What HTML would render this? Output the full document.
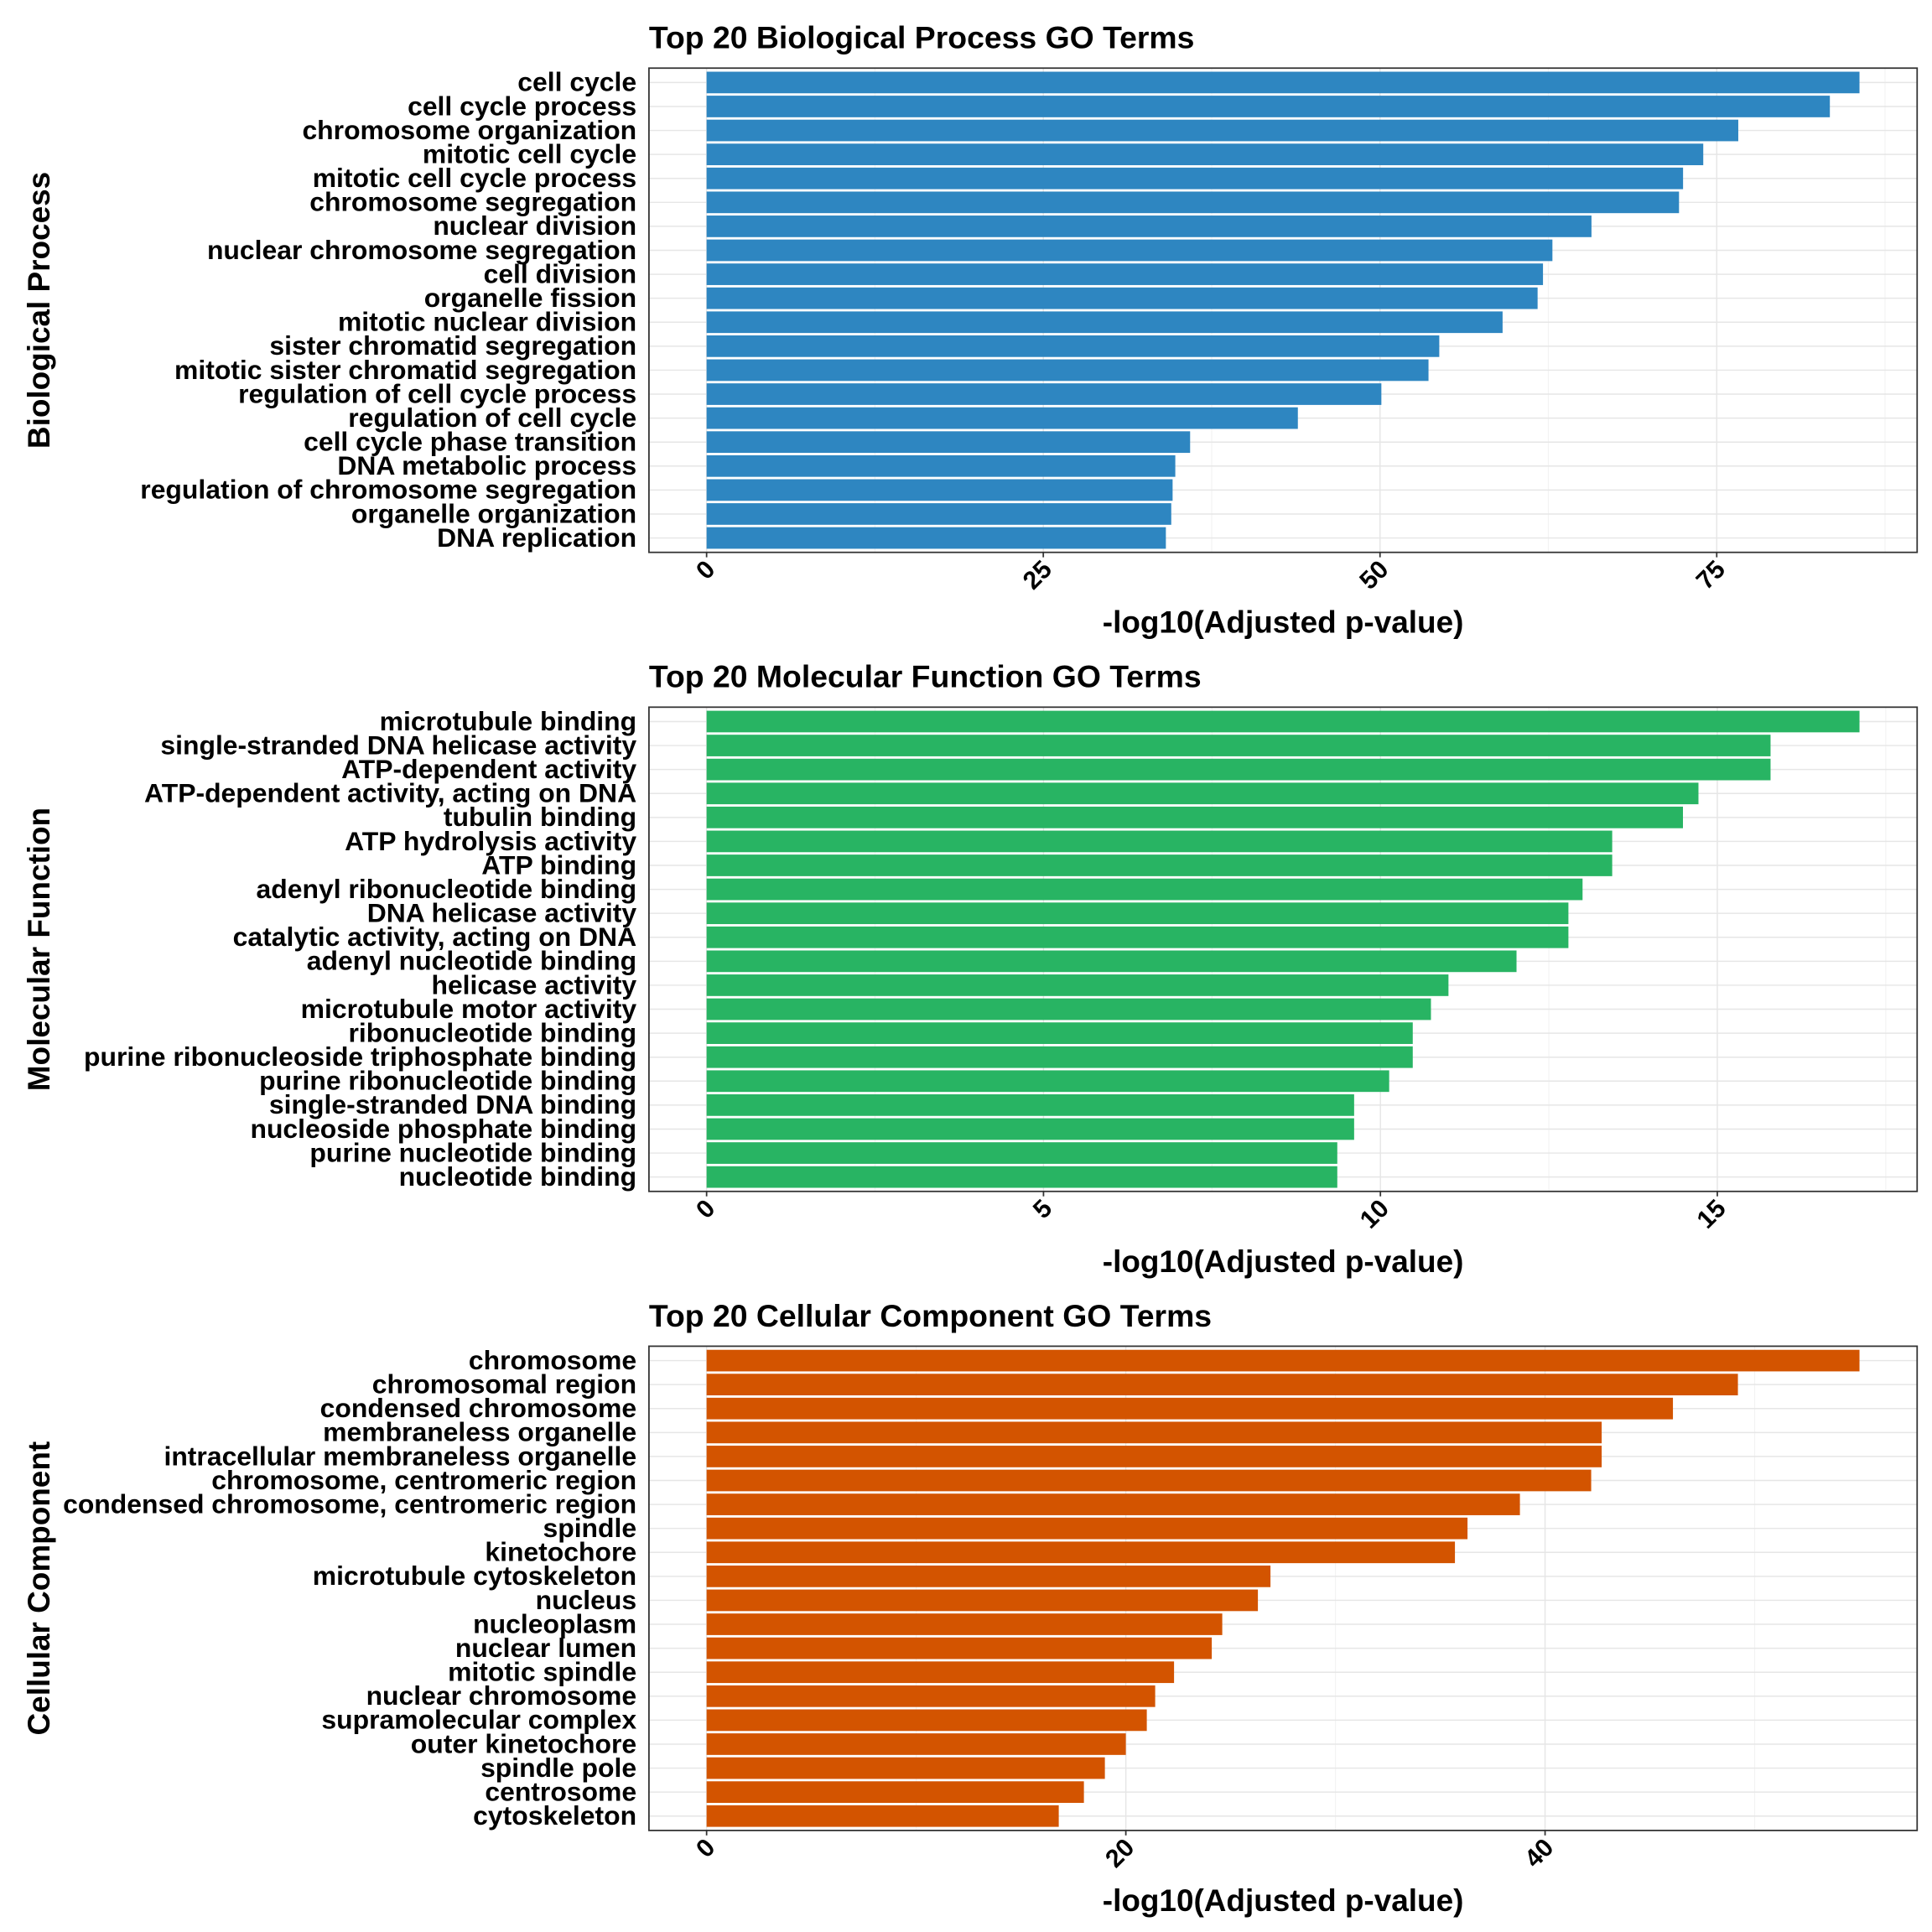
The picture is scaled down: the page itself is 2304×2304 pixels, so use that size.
<!DOCTYPE html>
<html><head><meta charset="utf-8"><style>
html,body{margin:0;padding:0;background:#fff;}
svg{display:block;font-family:"Liberation Sans",Arial,sans-serif;}
</style></head><body>
<svg id="chart" width="2304" height="2304" viewBox="0 0 1560 1560" xmlns="http://www.w3.org/2000/svg"></svg>
<script>
const bpTerms = ["cell cycle","cell cycle process","chromosome organization","mitotic cell cycle","mitotic cell cycle process","chromosome segregation","nuclear division","nuclear chromosome segregation","cell division","organelle fission","mitotic nuclear division","sister chromatid segregation","mitotic sister chromatid segregation","regulation of cell cycle process","regulation of cell cycle","cell cycle phase transition","DNA metabolic process","regulation of chromosome segregation","organelle organization","DNA replication"];
const bpValues = [85.6,83.4,76.6,74.0,72.5,72.2,65.7,62.8,62.1,61.7,59.1,54.4,53.6,50.1,43.9,35.9,34.8,34.6,34.5,34.1];
const bpTicks = [0,25,50,75];
const mfTerms = ["microtubule binding","single-stranded DNA helicase activity","ATP-dependent activity","ATP-dependent activity, acting on DNA","tubulin binding","ATP hydrolysis activity","ATP binding","adenyl ribonucleotide binding","DNA helicase activity","catalytic activity, acting on DNA","adenyl nucleotide binding","helicase activity","microtubule motor activity","ribonucleotide binding","purine ribonucleoside triphosphate binding","purine ribonucleotide binding","single-stranded DNA binding","nucleoside phosphate binding","purine nucleotide binding","nucleotide binding"];
const mfValues = [17.11,15.79,15.79,14.72,14.49,13.44,13.44,13.0,12.79,12.79,12.02,11.01,10.75,10.48,10.48,10.13,9.61,9.61,9.36,9.36];
const mfTicks = [0,5,10,15];
const ccTerms = ["chromosome","chromosomal region","condensed chromosome","membraneless organelle","intracellular membraneless organelle","chromosome, centromeric region","condensed chromosome, centromeric region","spindle","kinetochore","microtubule cytoskeleton","nucleus","nucleoplasm","nuclear lumen","mitotic spindle","nuclear chromosome","supramolecular complex","outer kinetochore","spindle pole","centrosome","cytoskeleton"];
const ccValues = [55.0,49.2,46.1,42.7,42.7,42.2,38.8,36.3,35.7,26.9,26.3,24.6,24.1,22.3,21.4,21.0,20.0,19.0,18.0,16.8];
const ccTicks = [0,20,40];

const NS="http://www.w3.org/2000/svg";
const svg=document.getElementById('chart');
function mk(tag,attrs,parent){const e=document.createElementNS(NS,tag);for(const k in attrs)e.setAttribute(k,attrs[k]);(parent||svg).appendChild(e);return e;}

function panel(key,top,title,ytitle,terms,values,ticks,color){
  const g=mk('g',{});
  
  
  const L=524,R=1548,T=top,B=top+391;
  const maxV=Math.max(...values);
  const d0=-0.05*maxV,d1=1.05*maxV;
  const xs=v=>L+(v-d0)/(d1-d0)*(R-L);
  const n=terms.length;
  const unit=(B-T)/(n-1+1.2);
  const ys=i=>T+unit*(0.6+i);
  const step=ticks[1]-ticks[0];
  for(let v=ticks[0]+step/2; xs(v)<R; v+=step){
    const l=mk('line',{x1:xs(v),x2:xs(v),y1:T,y2:B,stroke:'#f3f3f3','stroke-width':0.8},g);
    
    
  }
  ticks.forEach(v=>{
    const l=mk('line',{x1:xs(v),x2:xs(v),y1:T,y2:B,stroke:'#e6e6e6','stroke-width':1},g);
    
    
  });
  terms.forEach((t,i)=>{
    const l=mk('line',{x1:L,x2:R,y1:ys(i),y2:ys(i),stroke:'#e6e6e6','stroke-width':1},g);
    
    
  });
  terms.forEach((t,i)=>{
    const r=mk('rect',{x:xs(0),y:ys(i)-unit*0.45,width:xs(values[i])-xs(0),height:unit*0.9,fill:color},g);
    
    
    const tx=mk('text',{x:514,y:ys(i)+7,'text-anchor':'end','font-size':21.6,'font-weight':'bold',fill:'#000'},g);
    tx.textContent=t;
    
    
  });
  const border=mk('rect',{x:L,y:T,width:R-L,height:B-T,fill:'none',stroke:'#333','stroke-width':1.2},g);
  
  
  ticks.forEach(v=>{
    const x=xs(v);
    const tk=mk('line',{x1:x,x2:x,y1:B,y2:B+4,stroke:'#333','stroke-width':1.2},g);
    
    
    const tl=mk('text',{x:x+8,y:B+15,'text-anchor':'end','font-size':20.5,'font-weight':'bold',fill:'#000',transform:`rotate(-45 ${x+8} ${B+15})`},g);
    tl.textContent=v;
    
    
  });
  const tt=mk('text',{x:524,y:T-16,'font-size':25.3,'font-weight':'bold',fill:'#000'},g);
  tt.textContent=title;
  
  
  const xt=mk('text',{x:(L+R)/2,y:B+65,'text-anchor':'middle','font-size':25,'font-weight':'bold',fill:'#000'},g);
  xt.textContent='-log10(Adjusted p-value)';
  
  
  const cy=(T+B)/2;
  const yt=mk('text',{x:40,y:cy,'text-anchor':'middle','font-size':25,'font-weight':'bold',fill:'#000',transform:`rotate(-90 40 ${cy})`},g);
  yt.textContent=ytitle;
  
  
}
panel('bp',55,'Top 20 Biological Process GO Terms','Biological Process',bpTerms,bpValues,bpTicks,'#2E86C1');
panel('mf',571,'Top 20 Molecular Function GO Terms','Molecular Function',mfTerms,mfValues,mfTicks,'#28B463');
panel('cc',1087,'Top 20 Cellular Component GO Terms','Cellular Component',ccTerms,ccValues,ccTicks,'#D35400');
</script>
</body></html>
